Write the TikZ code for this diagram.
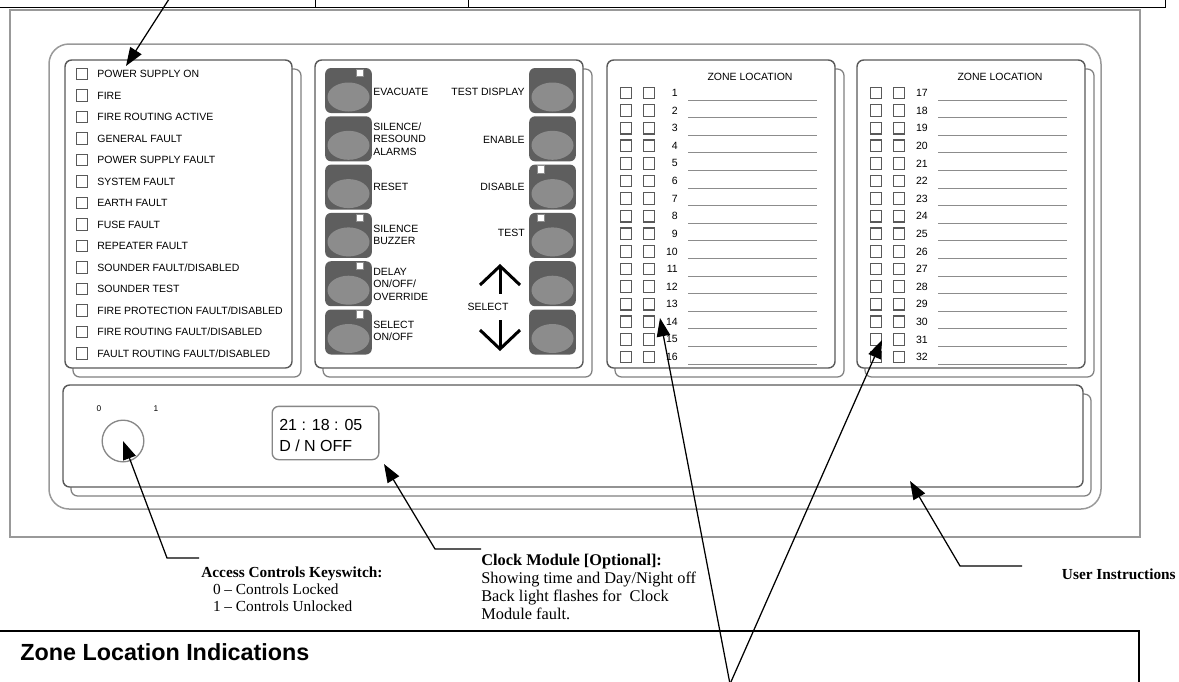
\documentclass[tikz,border=0pt]{standalone}
\usepackage{fontspec}
\setmainfont{Liberation Serif}
\setsansfont{Liberation Sans}
\usetikzlibrary{arrows.meta}
\tikzset{
  panel/.style={draw=black!65, line width=0.85pt, rounded corners=4pt, fill=white},
  panelshade/.style={draw=black!50, line width=0.75pt, rounded corners=4pt},
  lamp/.style={draw=black!65, line width=0.75pt, fill=white, minimum size=7pt, inner sep=0pt},
  paneltext/.style={font=\sffamily\fontsize{6.3}{7.5}\selectfont, inner sep=0pt, align=left},
  keybtn/.style={fill=black!63, rounded corners=3.5pt, minimum width=28pt, minimum height=27pt, inner sep=0pt},
  keycap/.style={fill=black!45},
  led/.style={draw=black!45, line width=0.3pt, fill=white},
  zoneline/.style={draw=black!45, line width=0.5pt},
  callout/.style={draw=black, line width=0.75pt},
  notetext/.style={font=\fontsize{9.2}{10.2}\selectfont, inner sep=0pt, align=left}
}
\begin{document}
\begin{tikzpicture}[x=0.6pt, y=-0.6pt, >={Triangle[length=11pt,width=8pt]}]
  \useasboundingbox (0,0) rectangle (1179,681);
  \draw[black!40, line width=1pt] (10,10) rectangle (1140,537);
  \draw[line width=0.6pt] (0,7.5) -- (1165,7.5) -- (1165,0);
  \draw[line width=0.6pt] (315,0) -- (315,7.5);
  \draw[line width=0.6pt] (468,0) -- (468,7.5);
  \draw[black!40, line width=0.9pt, rounded corners=12pt] (49,44) rectangle (1101,509);

  \draw[panelshade] (73,69) rectangle (301,377);
  \draw[panel] (65,60) rectangle (292,368);
  \foreach \txt [count=\i] in {POWER SUPPLY ON, FIRE, FIRE ROUTING ACTIVE, GENERAL FAULT, POWER SUPPLY FAULT, SYSTEM FAULT, EARTH FAULT, FUSE FAULT, REPEATER FAULT, SOUNDER FAULT/DISABLED, SOUNDER TEST, FIRE PROTECTION FAULT/DISABLED, FIRE ROUTING FAULT/DISABLED, FAULT ROUTING FAULT/DISABLED} {
    \pgfmathsetmacro{\yr}{74+21.5*(\i-1)}
    \node[lamp] (ind\i) at (82,\yr) {};
    \node[paneltext, anchor=west] (indl\i) at (97,\yr) {\txt};
  }

  \draw[panelshade] (323,69) rectangle (592,377);
  \draw[panel] (315,60) rectangle (583,368);
  \foreach \r in {1,...,6} {
    \pgfmathsetmacro{\yc}{90.5+48.3*(\r-1)}
    \node[keybtn] (bl\r) at (348.5,\yc) {};
    \fill[keycap] (348.5,\yc+6.5) ellipse [x radius=21, y radius=14.5];
    \node[keybtn] (br\r) at (552.5,\yc) {};
    \fill[keycap] (552.5,\yc+6.5) ellipse [x radius=21, y radius=14.5];
  }
  \foreach \r in {1,4,5,6} \draw[led] (356,{69+48.3*(\r-1)}) rectangle +(7.5,7.5);
  \foreach \r in {3,4} \draw[led] (537,{69+48.3*(\r-1)}) rectangle +(7.5,7.5);
  \node[paneltext, anchor=west] (lbev) at (373,92) {EVACUATE};
  \node[paneltext, anchor=west] (lbsr) at (373,139) {SILENCE/\\RESOUND\\ALARMS};
  \node[paneltext, anchor=west] (lbrs) at (373,187) {RESET};
  \node[paneltext, anchor=west] (lbsb) at (373,235) {SILENCE\\BUZZER};
  \node[paneltext, anchor=west] (lbdl) at (373,284) {DELAY\\ON/OFF/\\OVERRIDE};
  \node[paneltext, anchor=west] (lbso) at (373,331) {SELECT\\ON/OFF};
  \node[paneltext, anchor=east] (lbtd) at (525,92) {TEST DISPLAY};
  \node[paneltext, anchor=east] (lben) at (525,140) {ENABLE};
  \node[paneltext, anchor=east] (lbds) at (525,187) {DISABLE};
  \node[paneltext, anchor=east] (lbts) at (525,233) {TEST};
  \node[paneltext] (lbsel) at (488,307) {SELECT};
  \draw[line width=1.8pt] (480,285) -- (500,266) -- (520,285);
  \draw[line width=1.8pt] (500,266) -- (500,294);
  \draw[line width=1.8pt] (480,330) -- (500,349) -- (520,330);
  \draw[line width=1.8pt] (500,320) -- (500,349);

  \foreach \z in {0,1} {
    \pgfmathsetmacro{\dx}{250*\z}
    \draw[panelshade] (615+\dx,69) rectangle (844+\dx,377);
    \draw[panel] (607+\dx,60) rectangle (835+\dx,368);
    \node[paneltext] (zhead\z) at (750+\dx,77) {ZONE LOCATION};
    \foreach \i in {1,...,16} {
      \pgfmathsetmacro{\yr}{93+17.6*(\i-1)}
      \pgfmathtruncatemacro{\zn}{\i+16*\z}
      \node[lamp] (za\zn) at (626+\dx,\yr) {};
      \node[lamp] (zb\zn) at (649+\dx,\yr) {};
      \node[paneltext, anchor=east] (zn\zn) at (678+\dx,\yr) {\zn};
      \draw[zoneline] (688+\dx,\yr+7) -- (817+\dx,\yr+7);
    }
  }

  \draw[panelshade] (71,394) rectangle (1091,496);
  \draw[panel] (63,385) rectangle (1083,487);
  \node[circle, draw=black!47, line width=0.8pt, minimum size=25pt, inner sep=0pt] (key) at (123,441) {};
  \node[font=\sffamily\fontsize{5}{6}\selectfont, inner sep=0pt] (key0) at (99,409) {0};
  \node[font=\sffamily\fontsize{5}{6}\selectfont, inner sep=0pt] (key1) at (156,409) {1};
  \node[draw=black!47, line width=0.8pt, rounded corners=4pt, minimum width=64pt, minimum height=32pt, inner sep=0pt] (clock) at (325.5,433) {};
  \node[font=\sffamily\fontsize{9.6}{12.6}\selectfont, inner sep=0pt, align=left, anchor=west] (clocktxt) at (279,435) {21 : 18 : 05\\D / N OFF};

  \coordinate (indtip) at (126,66);
  \coordinate (indtail) at (171,-4);
  \draw[callout,->] (indtail) -- (indtip);
  \coordinate (keyknee) at (167,558);
  \coordinate (keyend) at (199,558);
  \draw[callout,->] (keyend) -- (keyknee) -- (key.center);
  \coordinate (clocktip) at (384,464);
  \coordinate (clockknee) at (435,549);
  \coordinate (clockend) at (481,549);
  \draw[callout,->] (clockend) -- (clockknee) -- (clocktip);
  \coordinate (usertip) at (910,481);
  \coordinate (userknee) at (960,566);
  \coordinate (userend) at (1022,566);
  \draw[callout,->] (userend) -- (userknee) -- (usertip);
  \coordinate (zonebase) at (730,684);
  \coordinate (zonetipa) at (660,318);
  \coordinate (zonetipb) at (882,340);
  \draw[callout,->] (zonebase) -- (zonetipa);
  \draw[callout,->] (zonebase) -- (zonetipb);

  \node[notetext, anchor=north west] (keynote) at (201,567) {\textbf{Access Controls Keyswitch:}\\\hspace*{7pt}0 – Controls Locked\\\hspace*{7pt}1 – Controls Unlocked};
  \node[notetext, anchor=north west, font=\fontsize{9.8}{10.8}\selectfont] (clocknote) at (481,554) {\textbf{Clock Module [Optional]:}\\Showing time and Day/Night off\\Back light flashes for\ \ Clock\\Module fault.};
  \node[notetext, anchor=east] (usernote) at (1176,574) {\textbf{User Instructions}};
  \draw[line width=0.7pt] (0,631) -- (1139,631) -- (1139,682);
  \node[font=\sffamily\bfseries\fontsize{14}{17}\selectfont, anchor=west, inner sep=0pt] (zonehead) at (20,652) {Zone Location Indications};
\end{tikzpicture}
\end{document}
